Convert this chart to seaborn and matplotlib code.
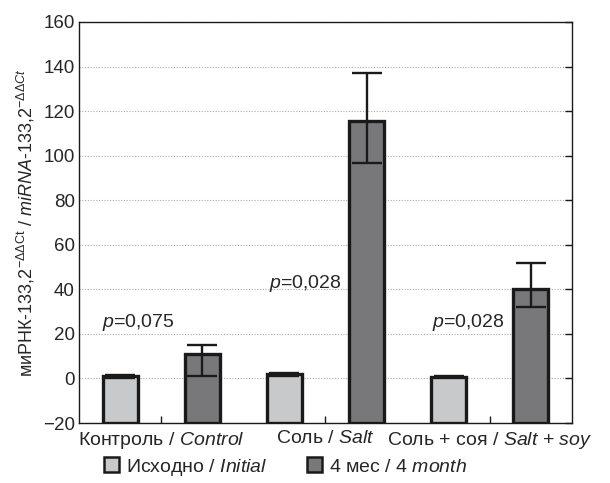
import matplotlib
matplotlib.use("Agg")
import matplotlib.pyplot as plt
import matplotlib.font_manager as fm
import seaborn as sns
import pandas as pd
import numpy as np
from matplotlib.patches import Patch

groups = ["Контроль / $\\it{Control}$", "Соль / $\\it{Salt}$", "Соль + соя / $\\it{Salt}$ + $\\it{soy}$"]
series = ["Исходно / $\\it{Initial}$", "4 мес / $\\it{4\\ month}$"]
initial = [1.2, 1.8, 0.7]
month4 = [10.8, 115.5, 40.0]
initial_lo = [0.4, 1.0, 0.5]
initial_hi = [1.5, 2.3, 0.9]
month4_lo = [1.0, 96.5, 32.0]
month4_hi = [15.0, 137.0, 52.0]
pvals = ["$\\it{p}$=0,075", "$\\it{p}$=0,028", "$\\it{p}$=0,028"]
p_y = [25.3, 42.8, 24.9]
p_dx = [0.085, 0.098, 0.092]
yticks = [-20, 0, 20, 40, 60, 80, 100, 120, 140, 160]
colors = ["#c8c9cb", "#77787c"]
ymin, ymax = -20, 160

sns.set_style("white")
names = {f.name for f in fm.fontManager.ttflist}
fam = "Liberation Sans Narrow" if "Liberation Sans Narrow" in names else "Liberation Sans"
plt.rcParams["font.family"] = [fam, "DejaVu Sans"]
plt.rcParams["mathtext.fontset"] = "custom"
plt.rcParams["mathtext.rm"] = fam
plt.rcParams["mathtext.it"] = fam + ":italic"
plt.rcParams["mathtext.bf"] = fam + ":bold"

df = pd.DataFrame({
    "group": groups * 2,
    "series": [series[0]] * 3 + [series[1]] * 3,
    "value": initial + month4,
})

fig = plt.figure(figsize=(6.1, 4.83), dpi=100)
ax = fig.add_axes([0.1295, 0.1242, 0.8082, 0.8303])
sns.barplot(data=df, x="group", y="value", hue="series", order=groups, hue_order=series,
            palette=colors, width=1.0, gap=0.575, edgecolor="#1a1a1a", linewidth=2.4,
            errorbar=None, legend=False, ax=ax)

bars = list(ax.patches)
lows = initial_lo + month4_lo
highs = initial_hi + month4_hi
vals = initial + month4
for b, v, lo, hi in zip(bars, vals, lows, highs):
    # bars rise from the bottom of the axis, as in the original figure
    top = b.get_y() + b.get_height()
    b.set_y(ymin)
    b.set_height(top - ymin)
    xc = b.get_x() + b.get_width() / 2
    ax.errorbar([xc], [v], yerr=[[v - lo], [hi - v]], fmt="none", ecolor="#1a1a1a",
                elinewidth=1.7, capsize=10.5, capthick=1.7, zorder=5)

ax.set_xlim(-0.5, 2.5)
ax.set_ylim(ymin, ymax)
ax.set_yticks(yticks)
ax.yaxis.grid(True, linestyle=(0, (1, 1.5)), color="#aaaaaa", linewidth=0.8)
ax.set_axisbelow(True)
for s in ax.spines.values():
    s.set_visible(True)
    s.set_color("#1a1a1a")
    s.set_linewidth(1.0)
ax.tick_params(axis="both", direction="in", length=5, width=1, right=True, bottom=True,
               labelsize=13.5, color="#1a1a1a", pad=3)
ax.tick_params(axis="x", labelsize=14, pad=5)
ax.set_xlabel("")
ax.set_ylabel("миРНК-133,2$^{\\mathrm{-\\Delta\\Delta Ct}}$ / $\\it{miRNA}$-133,2$^{\\it{-\\Delta\\Delta Ct}}$",
              fontsize=13, labelpad=4)

for i, (t, yy, dx) in enumerate(zip(pvals, p_y, p_dx)):
    ax.text(i + dx, yy, t, fontsize=14, va="center", ha="right")

handles = [Patch(facecolor=c, edgecolor="#1a1a1a", linewidth=1.8) for c in colors]
fig.legend(handles, series, loc="center", bbox_to_anchor=(0.468, 0.033), ncol=2,
           frameon=False, fontsize=14, handlelength=0.8, handleheight=0.8,
           columnspacing=2.0, handletextpad=0.35, borderaxespad=0, borderpad=0)

fig.savefig("out.png", dpi=100)
